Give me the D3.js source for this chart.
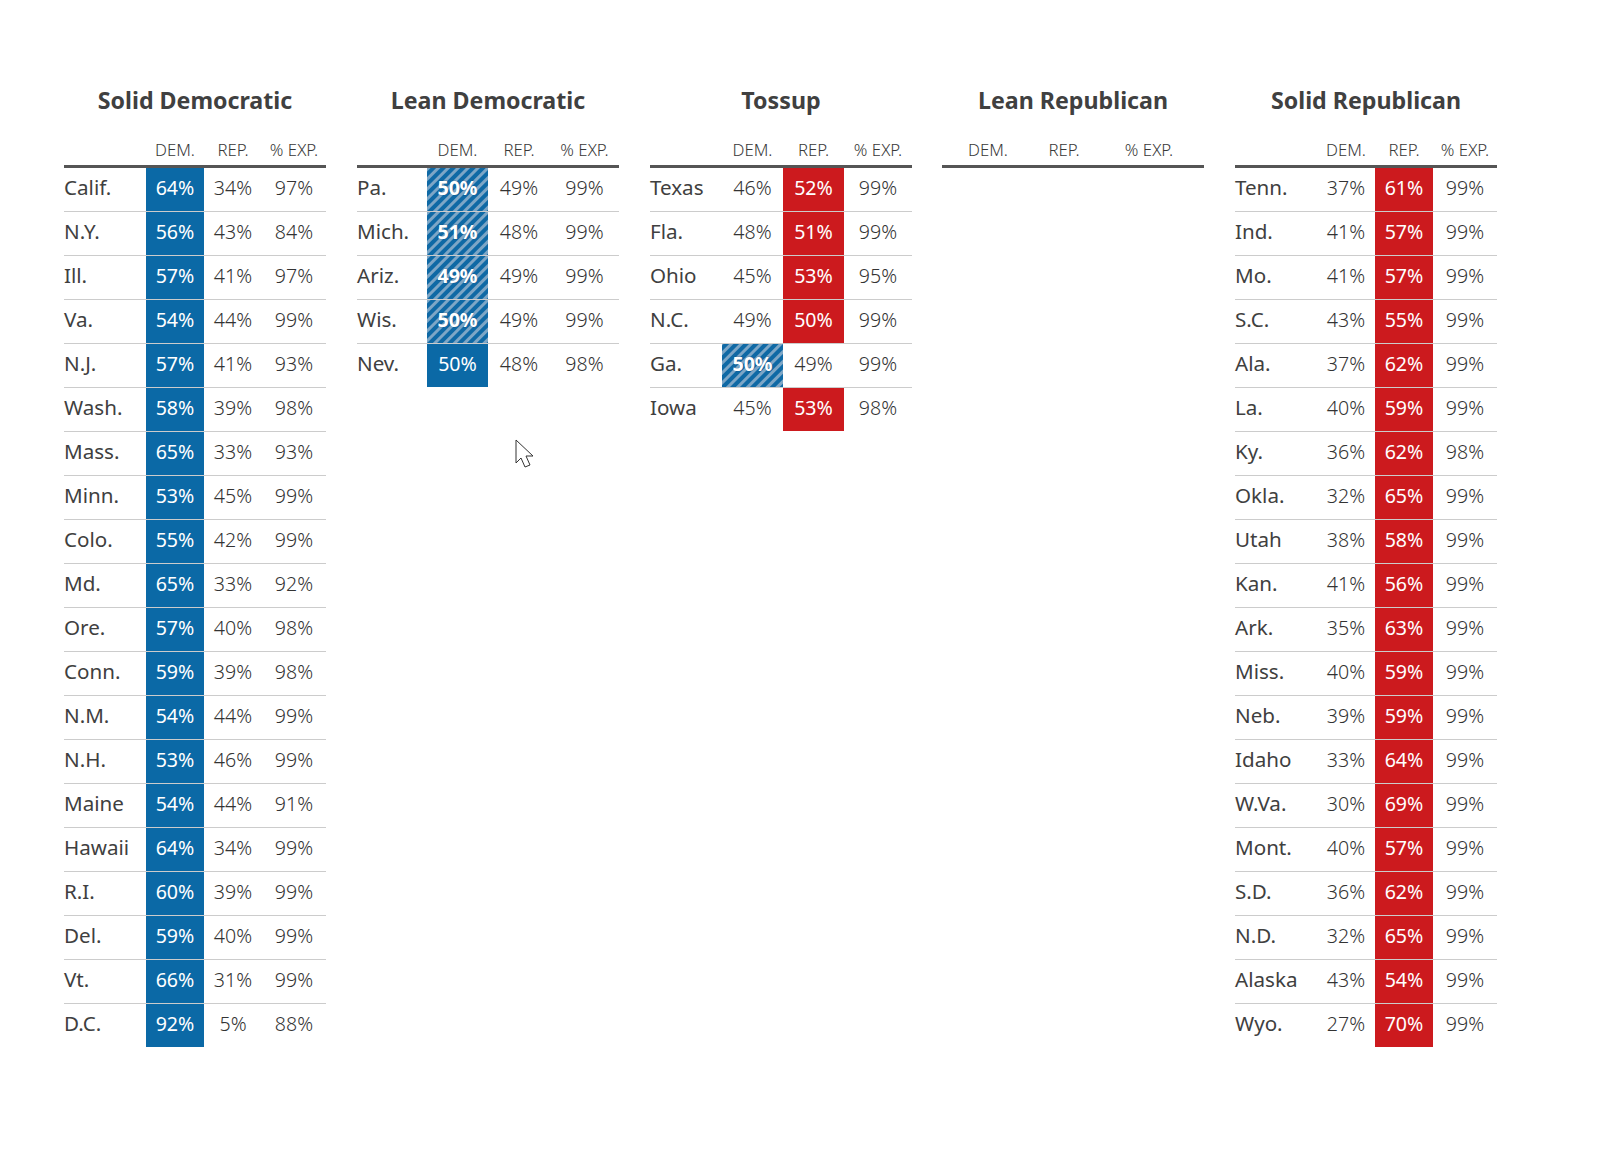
<!DOCTYPE html>
<html><head><meta charset="utf-8">
<style>html,body{margin:0;background:#fff}svg{display:block}
text{font-family:"Noto Sans",sans-serif;fill:#404040}
.title{font-size:23.2px;font-weight:700;text-anchor:middle}
.head{font-size:16.8px;font-weight:300;text-anchor:middle;fill:#383838}
.state{font-size:20.6px}
.val{font-size:19.6px;font-weight:300;text-anchor:middle;fill:#333}
.win{fill:#fff;font-weight:400}
.hat{fill:#fff;font-weight:700;paint-order:stroke;stroke:rgba(20,60,100,.35);stroke-width:1px}
</style></head><body>
<script src="https://cdn.jsdelivr.net/npm/d3@7"></script>
<script>
const categories=["Solid Democratic","Lean Democratic","Tossup","Lean Republican","Solid Republican"];
const headers=["DEM.","REP.","% EXP."];

const solidDemStates=["Calif.","N.Y.","Ill.","Va.","N.J.","Wash.","Mass.","Minn.","Colo.","Md.","Ore.","Conn.","N.M.","N.H.","Maine","Hawaii","R.I.","Del.","Vt.","D.C."];
const solidDemDem=[64,56,57,54,57,58,65,53,55,65,57,59,54,53,54,64,60,59,66,92];
const solidDemRep=[34,43,41,44,41,39,33,45,42,33,40,39,44,46,44,34,39,40,31,5];
const solidDemExp=[97,84,97,99,93,98,93,99,99,92,98,98,99,99,91,99,99,99,99,88];
const solidDemLead=["D","D","D","D","D","D","D","D","D","D","D","D","D","D","D","D","D","D","D","D"];
const solidDemPending=[];

const leanDemStates=["Pa.","Mich.","Ariz.","Wis.","Nev."];
const leanDemDem=[50,51,49,50,50];
const leanDemRep=[49,48,49,49,48];
const leanDemExp=[99,99,99,99,98];
const leanDemLead=["D","D","D","D","D"];
const leanDemPending=["Pa.","Mich.","Ariz.","Wis."];

const tossupStates=["Texas","Fla.","Ohio","N.C.","Ga.","Iowa"];
const tossupDem=[46,48,45,49,50,45];
const tossupRep=[52,51,53,50,49,53];
const tossupExp=[99,99,95,99,99,98];
const tossupLead=["R","R","R","R","D","R"];
const tossupPending=["Ga."];

const leanRepStates=[];
const leanRepDem=[];
const leanRepRep=[];
const leanRepExp=[];
const leanRepLead=[];
const leanRepPending=[];

const solidRepStates=["Tenn.","Ind.","Mo.","S.C.","Ala.","La.","Ky.","Okla.","Utah","Kan.","Ark.","Miss.","Neb.","Idaho","W.Va.","Mont.","S.D.","N.D.","Alaska","Wyo."];
const solidRepDem=[37,41,41,43,37,40,36,32,38,41,35,40,39,33,30,40,36,32,43,27];
const solidRepRep=[61,57,57,55,62,59,62,65,58,56,63,59,59,64,69,57,62,65,54,70];
const solidRepExp=[99,99,99,99,99,99,98,99,99,99,99,99,99,99,99,99,99,99,99,99];
const solidRepLead=["R","R","R","R","R","R","R","R","R","R","R","R","R","R","R","R","R","R","R","R"];
const solidRepPending=[];

const tables=[
 [solidDemStates,solidDemDem,solidDemRep,solidDemExp,solidDemLead,solidDemPending],
 [leanDemStates,leanDemDem,leanDemRep,leanDemExp,leanDemLead,leanDemPending],
 [tossupStates,tossupDem,tossupRep,tossupExp,tossupLead,tossupPending],
 [leanRepStates,leanRepDem,leanRepRep,leanRepExp,leanRepLead,leanRepPending],
 [solidRepStates,solidRepDem,solidRepRep,solidRepExp,solidRepLead,solidRepPending]
];

// layout
const W=1618,H=1165,tableW=262,headTop=168,rowH=44;
const tableX=d3.scaleBand().domain(categories).range([64,64+292.75*5]);
// column boundaries per table (auto table layout offsets from each table's left edge)
const colEdges=[[82,140,198,262],[70,131,193,262],[72,133,194,262],[0,92,152,262],[82,140,198,262]];
const rowY=d3.scaleLinear().domain([0,1]).range([headTop,headTop+rowH]);

const svg=d3.select("body").append("svg").attr("width",W).attr("height",H);
const defs=svg.append("defs");
const pat=defs.append("pattern").attr("id","hatch").attr("patternUnits","userSpaceOnUse")
  .attr("width",7).attr("height",7).attr("patternTransform","rotate(-45)");
pat.append("rect").attr("width",7).attr("height",7).attr("fill","#0f69a5");
pat.append("rect").attr("width",7).attr("height",3).attr("fill","#7da6c6");

categories.forEach((cat,t)=>{
  const [st,dem,rep,exp,lead,pend]=tables[t];
  const x0=Math.round(tableX(cat));
  const edges=colEdges[t];
  const colCenter=i=>x0+(edges[i]+edges[i+1])/2;
  const g=svg.append("g").attr("class","table");
  g.append("text").attr("class","title").attr("x",x0+131).attr("y",109).text(cat);
  g.selectAll("text.head").data(headers).join("text").attr("class","head")
    .attr("x",(d,i)=>colCenter(i)).attr("y",156).text(d=>d);
  g.append("rect").attr("x",x0).attr("y",165).attr("width",tableW).attr("height",3).attr("fill","#555");

  const rows=g.selectAll("g.row").data(st.map((s,i)=>({s,i,vals:[dem[i],rep[i],exp[i]],lead:lead[i],hat:pend.includes(s)})))
    .join("g").attr("class","row").attr("transform",d=>`translate(${x0},${rowY(d.i)})`);
  const n=st.length;
  rows.append("rect").attr("class","cell")
    .attr("x",d=>edges[d.lead==="D"?0:1]).attr("y",0)
    .attr("width",d=>edges[d.lead==="D"?1:2]-edges[d.lead==="D"?0:1])
    .attr("height",rowH-1)
    .attr("fill",d=>d.hat?"url(#hatch)":d.lead==="D"?"#0b69a6":"#cc1a1e");
  rows.filter(d=>d.i<n-1).append("rect").attr("x",0).attr("y",rowH-1).attr("width",tableW).attr("height",1).attr("fill","#ccc");
  rows.append("text").attr("class","state").attr("x",0).attr("y",27).text(d=>d.s);
  [0,1,2].forEach(c=>{
    rows.append("text").attr("class",d=>{
      const win=(c===0&&d.lead==="D")||(c===1&&d.lead==="R");
      return "val"+(win?(d.hat?" hat":" win"):"");
    }).attr("x",colCenter(c)-x0).attr("y",27).text(d=>d.vals[c]+"%");
  });
});

// mouse cursor visible in the source screenshot
svg.append("path").attr("d","M516,440 L516,463 L521,458 L525,467 L530,465 L526,456 L533,456 Z")
  .attr("fill","#fff").attr("stroke","#333").attr("stroke-width",1);
</script>
</body></html>
